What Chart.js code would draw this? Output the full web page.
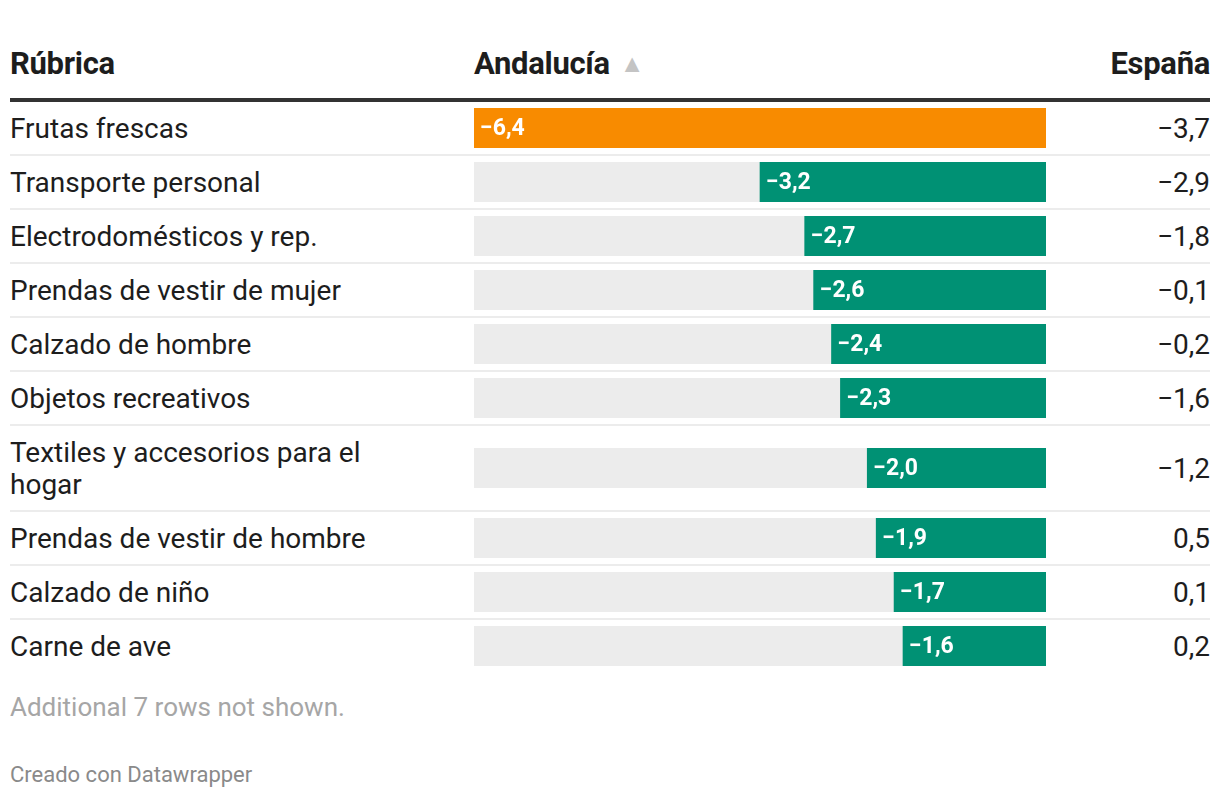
<!DOCTYPE html>
<html>
<head>
<meta charset="utf-8">
<script src="https://cdn.jsdelivr.net/npm/chart.js@4"></script>
<style>
  body { margin: 0; background: #fff; font-family: Roboto, sans-serif; color: #1d1d1d; }
  #wrap { position: relative; width: 1220px; height: 798px; }
  .head { position: absolute; top: 48px; font-size: 31px; line-height: 31px; font-weight: 700; letter-spacing: -0.3px; }
  .head .arrow { color: #c4c4c4; font-size: 25px; margin-left: 10px; vertical-align: 2px; }
  #rule { position: absolute; left: 10px; top: 98px; width: 1200px; height: 4px; background: #333; }
  #rows { position: absolute; left: 10px; top: 102px; width: 1200px; }
  .row { display: flex; align-items: center; height: 52px; border-bottom: 2px solid #ececec; }
  .row.tall { height: 84px; }
  .row:last-child { border-bottom: none; }
  .lbl { width: 400px; font-size: 28px; line-height: 32px; padding-top: 2px; }
  .bar { position: relative; width: 572px; height: 40px; margin-left: 64px; }
  .num { flex: 1; text-align: right; font-size: 28px; line-height: 32px; padding-top: 2px; }
  #more { position: absolute; left: 10px; top: 692px; font-size: 26px; color: #a6a6a6; }
  #credit { position: absolute; left: 10px; top: 762px; font-size: 22px; color: #8a8a8a; }
</style>
</head>
<body>
<div id="wrap">
  <div class="head" style="left:10px">Rúbrica</div>
  <div class="head" style="left:474px">Andalucía<span class="arrow">▲</span></div>
  <div class="head" style="right:10px">España</div>
  <div id="rule"></div>
  <div id="rows"></div>
  <div id="more">Additional 7 rows not shown.</div>
  <div id="credit">Creado con Datawrapper</div>
</div>
<script>
const categories = ["Frutas frescas", "Transporte personal", "Electrodomésticos y rep.",
  "Prendas de vestir de mujer", "Calzado de hombre", "Objetos recreativos",
  "Textiles y accesorios para el hogar", "Prendas de vestir de hombre",
  "Calzado de niño", "Carne de ave"];
const andalucia = [-6.4, -3.2, -2.7, -2.6, -2.4, -2.3, -2.0, -1.9, -1.7, -1.6];
const espana = [-3.7, -2.9, -1.8, -0.1, -0.2, -1.6, -1.2, 0.5, 0.1, 0.2];
const highlighted = ["Frutas frescas"];

const fmt = v => v.toFixed(1).replace(".", ",").replace("-", "\u2212");
const minVal = Math.min(...andalucia);

// white value label at the left end of the bar
const valueLabel = {
  id: "valueLabel",
  afterDatasetsDraw(chart) {
    const bar = chart.getDatasetMeta(0).data[0];
    const ctx = chart.ctx;
    ctx.save();
    ctx.fillStyle = "#fff";
    ctx.font = "bold 23px Roboto";
    ctx.textBaseline = "middle";
    ctx.fillText(fmt(chart.data.datasets[0].data[0]), Math.min(bar.x, bar.base) + 6, bar.y + 1);
    ctx.restore();
  }
};

const rows = document.getElementById("rows");
categories.forEach((name, i) => {
  const row = document.createElement("div");
  row.className = "row" + (name.length > 30 ? " tall" : "");
  row.innerHTML = '<div class="lbl">' + name + '</div><div class="bar"><canvas></canvas></div><div class="num">' + fmt(espana[i]) + '</div>';
  rows.appendChild(row);

  new Chart(row.querySelector("canvas"), {
    type: "bar",
    data: {
      labels: [name],
      datasets: [
        {
          data: [andalucia[i]],
          backgroundColor: highlighted.includes(name) ? "#f88b00" : "#009174",
          grouped: false,
          order: 1,
        },
        {
          data: [minVal],
          backgroundColor: "#ececec",
          grouped: false,
          order: 2,
        },
      ],
    },
    options: {
      indexAxis: "y",
      responsive: true,
      maintainAspectRatio: false,
      animation: false,
      barPercentage: 1,
      categoryPercentage: 1,
      layout: { padding: 0 },
      scales: {
        x: { display: false, min: minVal, max: 0 },
        y: { display: false },
      },
      plugins: { legend: { display: false }, tooltip: { enabled: false } },
    },
    plugins: [valueLabel],
  });
});
</script>
</body>
</html>
